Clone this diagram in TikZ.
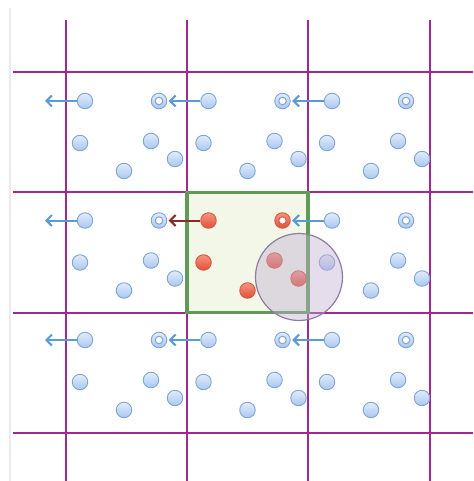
\documentclass[tikz,border=0pt]{standalone}
\usetikzlibrary{arrows.meta}
\definecolor{gridc}{HTML}{A0288F}
\definecolor{bluetop}{HTML}{E2ECFB}
\definecolor{bluebot}{HTML}{A9C7EF}
\definecolor{bluedraw}{HTML}{7FA5D6}
\definecolor{redtop}{HTML}{F4957E}
\definecolor{redbot}{HTML}{E0503A}
\definecolor{reddraw}{HTML}{D65A43}
\definecolor{arrowblue}{HTML}{5B9BD5}
\definecolor{arrowred}{HTML}{8E2B20}
\definecolor{greenfill}{HTML}{F2F7E8}
\definecolor{greendraw}{HTML}{5E9C55}
\definecolor{circfill}{HTML}{C2ADD2}
\definecolor{circdraw}{HTML}{8E7DA0}
\definecolor{barc}{HTML}{EBEBEB}
\tikzset{
  gridline/.style={draw=gridc,line width=2.2pt},
  ball/.style={circle,inner sep=0pt,minimum size=15.5pt,line width=0.9pt},
  blueball/.style={ball,draw=bluedraw,top color=bluetop,bottom color=bluebot},
  redball/.style={ball,draw=reddraw,top color=redtop,bottom color=redbot},
  ghostin/.style={circle,inner sep=0pt,minimum size=7.5pt,fill=white,line width=1pt},
  blueghostin/.style={ghostin,draw=bluedraw},
  redghostin/.style={ghostin,draw=reddraw},
  bluearrowc/.style={draw=arrowblue},
  redarrowc/.style={draw=arrowred},
  moveline/.style={line width=2pt,-{Straight Barb[length=5.5pt,width=11pt]},shorten >=1.5pt},
  cellbox/.style={draw=greendraw,fill=greenfill,line width=3.5pt},
  cutoff/.style={draw=circdraw,fill=circfill,fill opacity=0.42,line width=1.2pt},
}
\begin{document}
\begin{tikzpicture}[x=1pt,y=-1pt]
\useasboundingbox (0,0) rectangle (473,481);
\draw[draw=barc,line width=2pt] (10,8) -- (10,481);
% grid
\foreach \x in {66,187,308,430} \draw[gridline] (\x,20) -- (\x,481);
\foreach \y in {72,192,313,433} \draw[gridline] (13,\y) -- (473,\y);
% central cell
\draw[cellbox] (187,192.5) rectangle (308,312.5);
% particles
\foreach \r in {1,2,3} {
  \foreach \c in {1,2,3} {
    \pgfmathsetmacro{\px}{85+123.5*(\c-1)}
    \pgfmathsetmacro{\py}{101+119.5*(\r-1)}
    \def\st{blue}
    \ifnum\r=2 \ifnum\c=2 \def\st{red}\fi\fi
    \node[\st ball] (a-\r-\c) at (\px,\py) {};
    \node[\st ball] (b-\r-\c) at ({\px-5},{\py+42}) {};
    \node[\st ball] (cc-\r-\c) at ({\px+66},{\py+40}) {};
    \node[\st ball] (d-\r-\c) at ({\px+90},{\py+58}) {};
    \node[\st ball] (e-\r-\c) at ({\px+39},{\py+70}) {};
    \node[\st ball] (g-\r-\c) at ({\px+74},\py) {};
    \node[\st ghostin] (gi-\r-\c) at (g-\r-\c) {};
  }
}
% moves to periodic images
\foreach \r in {1,2,3} {
  \coordinate (out-\r) at ({45-1.5},{101+119.5*(\r-1)});
  \draw[bluearrowc,moveline] (a-\r-1) -- (out-\r);
  \draw[bluearrowc,moveline] (a-\r-3) -- (g-\r-2);
}
\draw[bluearrowc,moveline] (a-1-2) -- (g-1-1);
\draw[redarrowc,moveline] (a-2-2) -- (g-2-1);
\draw[bluearrowc,moveline] (a-3-2) -- (g-3-1);
% cutoff sphere
\node[cutoff,circle,minimum size=87pt,inner sep=0pt] (cut) at (299,277) {};
\end{tikzpicture}
\end{document}
